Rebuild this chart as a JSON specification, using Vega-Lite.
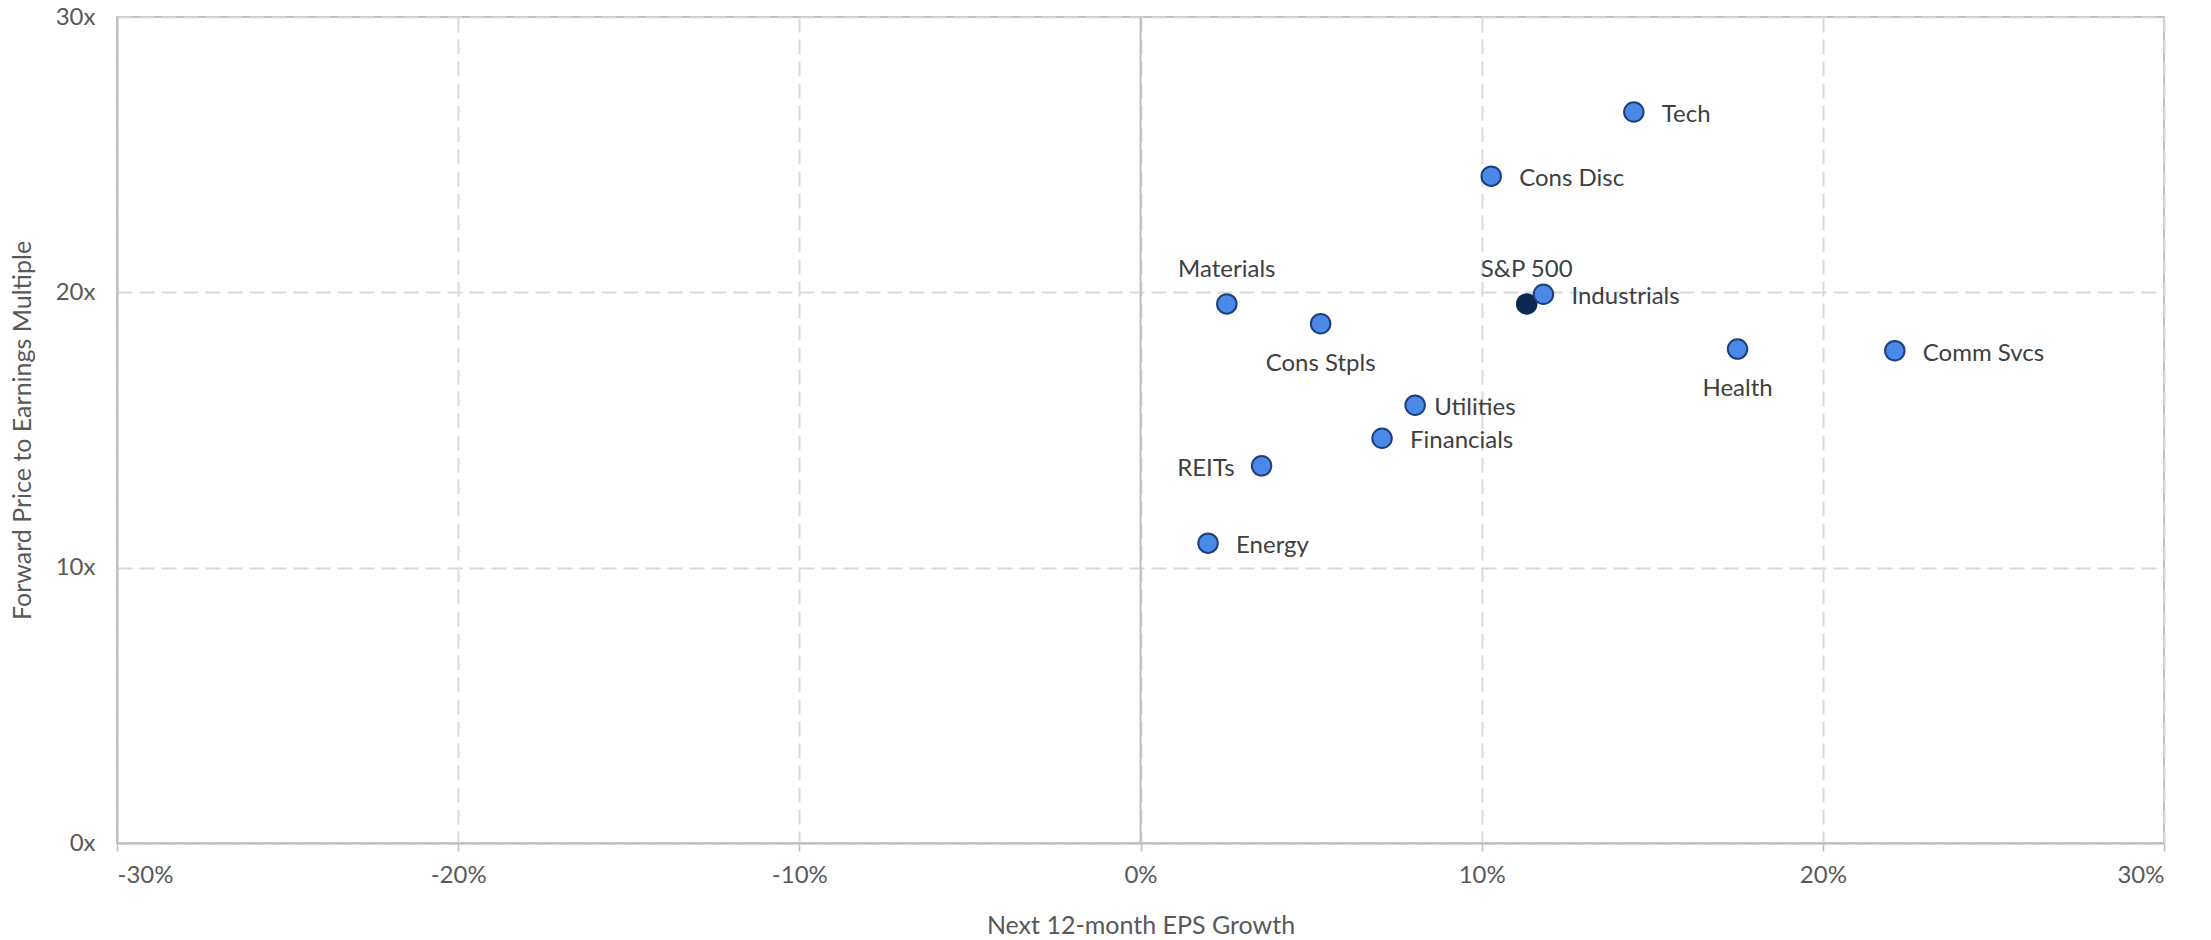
{
  "$schema": "https://vega.github.io/schema/vega-lite/v6.json",
  "width": 2047,
  "height": 826,
  "autosize": {"type": "none"},
  "padding": {"left": 117, "top": 17, "right": 47, "bottom": 97},
  "background": "white",
  "config": {
    "view": {"stroke": "#BFBFBF", "strokeWidth": 2},
    "font": "Lato",
    "axis": {
      "domainColor": "#BFBFBF",
      "domainWidth": 2,
      "gridColor": "#D9D9D9",
      "gridDash": [15, 7],
      "gridWidth": 2,
      "labelFont": "Lato",
      "labelFontSize": 24,
      "labelColor": "#595959",
      "titleFont": "Lato",
      "titleFontSize": 25,
      "titleFontWeight": "normal",
      "titleColor": "#595959"
    },
    "axisX": {"tickColor": "#BFBFBF", "tickWidth": 1.5, "tickSize": 8, "labelPadding": 12, "titlePadding": 26},
    "axisY": {"ticks": false, "labelPadding": 22, "titlePadding": 20}
  },
  "datasets": {
    "sectors": [
      {"label": "Tech", "eps": 0.1446, "pe": 26.55, "type": "Sector"},
      {"label": "Cons Disc", "eps": 0.1028, "pe": 24.22, "type": "Sector"},
      {"label": "S&P 500", "eps": 0.1132, "pe": 19.58, "type": "Index"},
      {"label": "Industrials", "eps": 0.1181, "pe": 19.93, "type": "Sector"},
      {"label": "Materials", "eps": 0.0253, "pe": 19.58, "type": "Sector"},
      {"label": "Cons Stpls", "eps": 0.0528, "pe": 18.86, "type": "Sector"},
      {"label": "Health", "eps": 0.175, "pe": 17.94, "type": "Sector"},
      {"label": "Comm Svcs", "eps": 0.2211, "pe": 17.88, "type": "Sector"},
      {"label": "Utilities", "eps": 0.0805, "pe": 15.9, "type": "Sector"},
      {"label": "Financials", "eps": 0.0708, "pe": 14.7, "type": "Sector"},
      {"label": "REITs", "eps": 0.0355, "pe": 13.7, "type": "Sector"},
      {"label": "Energy", "eps": 0.0198, "pe": 10.89, "type": "Sector"}
    ],
    "zero": [{"eps": 0}]
  },
  "layer": [
    {
      "data": {"name": "zero"},
      "mark": {"type": "rule", "color": "#BFBFBF", "strokeWidth": 2},
      "encoding": {
        "x": {"field": "eps", "type": "quantitative"}
      }
    },
    {
      "data": {"name": "sectors"},
      "mark": {"type": "point", "shape": "circle", "filled": true, "size": 380, "strokeWidth": 2, "opacity": 1},
      "encoding": {
        "x": {
          "field": "eps", "type": "quantitative",
          "scale": {"domain": [-0.3, 0.3], "nice": false, "zero": false},
          "axis": {"values": [-0.3, -0.2, -0.1, 0, 0.1, 0.2, 0.3], "labelExpr": "replace(format(datum.value, '.0%'), '\u2212', '-')", "title": "Next 12-month EPS Growth"}
        },
        "y": {
          "field": "pe", "type": "quantitative",
          "scale": {"domain": [0, 30], "nice": false},
          "axis": {"values": [0, 10, 20, 30], "labelExpr": "datum.value + 'x'", "title": "Forward Price to Earnings Multiple"}
        },
        "fill": {"field": "type", "type": "nominal", "scale": {"domain": ["Sector", "Index"], "range": ["#4A89E8", "#0B2850"]}, "legend": null},
        "stroke": {"field": "type", "type": "nominal", "scale": {"domain": ["Sector", "Index"], "range": ["#1B3F7F", "#0B2850"]}, "legend": null}
      }
    },
    {
      "data": {"name": "sectors"},
      "transform": [{"filter": {"field": "label", "oneOf": ["Tech", "Cons Disc", "Industrials", "Financials", "Comm Svcs", "Energy"]}}],
      "mark": {"type": "text", "align": "left", "baseline": "middle", "dx": 28, "dy": 3, "fontSize": 24, "font": "Lato", "color": "#404040"},
      "encoding": {
        "x": {"field": "eps", "type": "quantitative"},
        "y": {"field": "pe", "type": "quantitative"},
        "text": {"field": "label"}
      }
    },
    {
      "data": {"name": "sectors"},
      "transform": [{"filter": {"field": "label", "oneOf": ["Utilities"]}}],
      "mark": {"type": "text", "align": "left", "baseline": "middle", "dx": 19, "dy": 3, "fontSize": 24, "font": "Lato", "color": "#404040"},
      "encoding": {
        "x": {"field": "eps", "type": "quantitative"},
        "y": {"field": "pe", "type": "quantitative"},
        "text": {"field": "label"}
      }
    },
    {
      "data": {"name": "sectors"},
      "transform": [{"filter": {"field": "label", "oneOf": ["REITs"]}}],
      "mark": {"type": "text", "align": "right", "baseline": "middle", "dx": -27, "dy": 3, "fontSize": 24, "font": "Lato", "color": "#404040"},
      "encoding": {
        "x": {"field": "eps", "type": "quantitative"},
        "y": {"field": "pe", "type": "quantitative"},
        "text": {"field": "label"}
      }
    },
    {
      "data": {"name": "sectors"},
      "transform": [{"filter": {"field": "label", "oneOf": ["S&P 500", "Materials"]}}],
      "mark": {"type": "text", "align": "center", "baseline": "middle", "dy": -34, "fontSize": 24, "font": "Lato", "color": "#404040"},
      "encoding": {
        "x": {"field": "eps", "type": "quantitative"},
        "y": {"field": "pe", "type": "quantitative"},
        "text": {"field": "label"}
      }
    },
    {
      "data": {"name": "sectors"},
      "transform": [{"filter": {"field": "label", "oneOf": ["Cons Stpls", "Health"]}}],
      "mark": {"type": "text", "align": "center", "baseline": "middle", "dy": 40, "fontSize": 24, "font": "Lato", "color": "#404040"},
      "encoding": {
        "x": {"field": "eps", "type": "quantitative"},
        "y": {"field": "pe", "type": "quantitative"},
        "text": {"field": "label"}
      }
    }
  ]
}
